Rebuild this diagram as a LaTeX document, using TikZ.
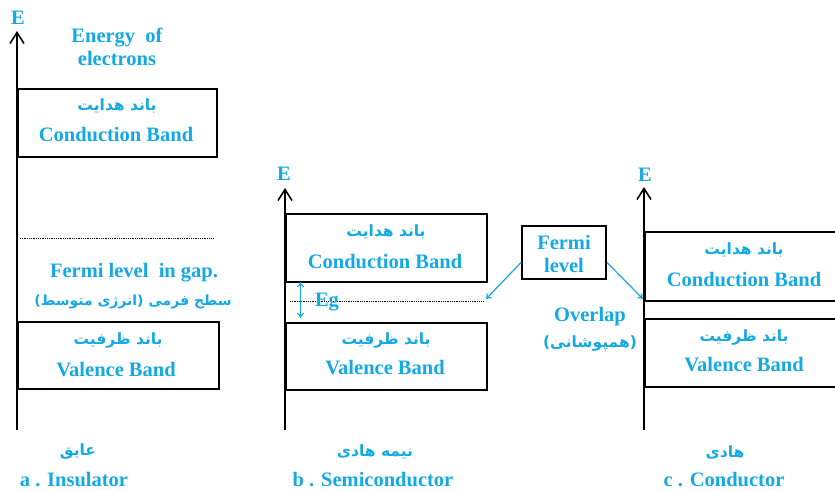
\documentclass[tikz,border=0pt]{standalone}
\usepackage{fontspec}
\setmainfont{Liberation Serif}[BoldFont={Liberation Serif Bold}]
\newfontfamily\fafont[Script=Arabic]{DejaVu Sans}
\TeXXeTstate=1
\usetikzlibrary{arrows.meta}
\definecolor{lbl}{HTML}{14A9E3}
\newcommand\rtl[1]{\beginR #1\endR}
\tikzset{
  band/.style={draw, line width=2pt, anchor=north west, inner sep=0pt},
  en/.style={text=lbl, font=\bfseries\fontsize{20.5}{22}\selectfont, inner sep=0pt},
  fa/.style={text=lbl, font=\fafont\bfseries\fontsize{15.5}{17}\selectfont, inner sep=0pt},
  fasmall/.style={fa, font=\fafont\bfseries\fontsize{14}{16}\selectfont},
  axis/.style={line width=1.6pt, -{Straight Barb[length=11pt,width=14pt,line width=1.6pt]}},
  fermiarrow/.style={lbl, line width=1.2pt, -{To[length=5pt,width=7pt]}},
  gaparrow/.style={lbl, line width=1.2pt, {To[length=5pt,width=7pt]}-{To[length=5pt,width=7pt]}},
  level/.style={densely dotted, line width=0.8pt},
}
\begin{document}
\begin{tikzpicture}[x=1pt,y=-1pt]
\useasboundingbox (0,0) rectangle (835,490);
\clip (0,0) rectangle (835,490);

% ---------- a: insulator ----------
\coordinate (aLow) at (17,430);
\coordinate (aTop) at (17,31);
\draw[axis] (aLow) -- (aTop);
\node[en] (aE) at (18,18) {E};
\node[en, align=center] (energy) at (117,47) {Energy\ \ of\\[1pt]electrons};
\node[band, minimum width=199pt, minimum height=68pt] (aCB) at (17,88) {};
\node[fa] (aCBfa) at (117,106) {\rtl{باند هدایت}};
\node[en] (aCBen) at (116,135) {Conduction Band};
\coordinate (aF1) at (20,238);
\coordinate (aF2) at (214,238);
\draw[level] (aF1) -- (aF2);
\node[en] (aFermi) at (134,273) {Fermi level\ \ in gap.};
\node[fasmall] (aFermiFa) at (133,302) {\rtl{سطح فرمی (انرژی متوسط)}};
\node[band, minimum width=201pt, minimum height=67pt] (aVB) at (17,321) {};
\node[fa] (aVBfa) at (118,340) {\rtl{باند ظرفیت}};
\node[en] (aVBen) at (116,370) {Valence Band};
\node[fa] (aNameFa) at (78,452) {\rtl{عایق}};
\node[en] (aName) at (74,479.5) {a . Insulator};

% ---------- b: semiconductor ----------
\coordinate (bLow) at (285,430);
\coordinate (bTop) at (285,188);
\draw[axis] (bLow) -- (bTop);
\node[en] (bE) at (284,174) {E};
\node[band, minimum width=201pt, minimum height=68pt] (bCB) at (285,213) {};
\node[fa] (bCBfa) at (386,232) {\rtl{باند هدایت}};
\node[en] (bCBen) at (385,262) {Conduction Band};
\coordinate (bF1) at (290,301.5);
\coordinate (bF2) at (484,301.5);
\draw[level] (bF1) -- (bF2);
\coordinate (gTop) at (300.5,282);
\coordinate (gBot) at (300.5,318);
\draw[gaparrow] (gTop) -- (gBot);
\node[en] (eg) at (327,302) {Eg};
\node[band, minimum width=201pt, minimum height=67pt] (bVB) at (285,322) {};
\node[fa] (bVBfa) at (386,340) {\rtl{باند ظرفیت}};
\node[en] (bVBen) at (385,368) {Valence Band};
\node[fa] (bNameFa) at (375,452) {\rtl{نیمه هادی}};
\node[en] (bName) at (373,479.5) {b . Semiconductor};

% ---------- Fermi level callout ----------
\node[draw, line width=2pt, minimum width=84pt, minimum height=53pt, inner sep=0pt] (fermi) at (564,252.5) {};
\node[en] (fermiT1) at (564,242) {Fermi};
\node[en] (fermiT2) at (564,265) {level};
\coordinate (fb) at (486,299);
\coordinate (fc) at (643,299);
\draw[fermiarrow] ([yshift=-10pt]fermi.west) -- (fb);
\draw[fermiarrow] ([yshift=-10pt]fermi.east) -- (fc);

% ---------- c: conductor ----------
\coordinate (cLow) at (644,430);
\coordinate (cTop) at (644,187);
\draw[axis] (cLow) -- (cTop);
\node[en] (cE) at (645,175) {E};
\node[band, minimum width=210pt, minimum height=69pt] (cCB) at (644,231) {};
\node[fa] (cCBfa) at (744,250) {\rtl{باند هدایت}};
\node[en] (cCBen) at (744,280) {Conduction Band};
\node[band, minimum width=210pt, minimum height=68pt] (cVB) at (644,318) {};
\node[fa] (cVBfa) at (744,337) {\rtl{باند ظرفیت}};
\node[en] (cVBen) at (744,365) {Valence Band};
\node[en] (overlap) at (590,317) {Overlap};
\node[fa] (overlapFa) at (590,343) {\rtl{(همپوشانی)}};
\node[fa] (cNameFa) at (725,452) {\rtl{هادی}};
\node[en] (cName) at (724,479.5) {c . Conductor};
\end{tikzpicture}
\end{document}
